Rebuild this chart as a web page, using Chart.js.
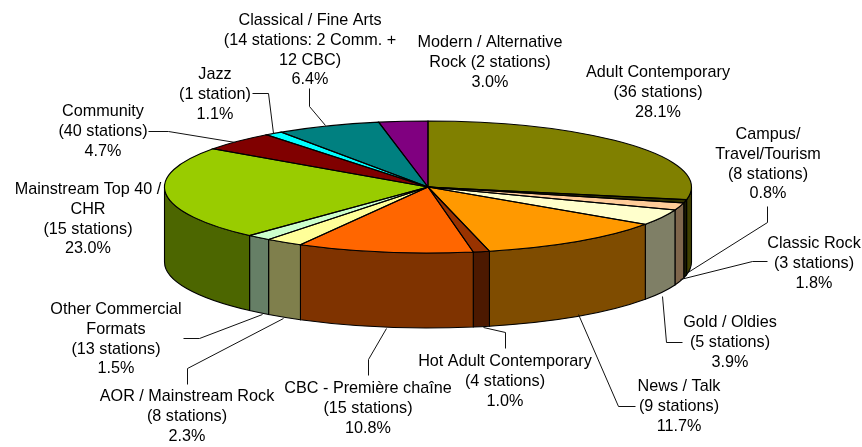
<!DOCTYPE html>
<html>
<head>
<meta charset="utf-8">
<style>
  html,body{margin:0;padding:0;background:#fff;}
  #wrap{width:862px;height:447px;}
</style>
<script src="https://cdn.jsdelivr.net/npm/chart.js@4"></script>
</head>
<body>
<div id="wrap"><canvas id="chart" width="862" height="447"></canvas></div>
<script>
const categories = ['Adult Contemporary','Campus/Travel/Tourism','Classic Rock','Gold / Oldies','News / Talk','Hot Adult Contemporary','CBC - Première chaîne','AOR / Mainstream Rock','Other Commercial Formats','Mainstream Top 40 / CHR','Community','Jazz','Classical / Fine Arts','Modern / Alternative Rock'];
const shares = [28.1,0.8,1.8,3.9,11.7,1.0,10.8,2.3,1.5,23.0,4.7,1.1,6.4,3.0];
const labelLines = [
  ['Adult Contemporary','(36 stations)'],
  ['Campus/','Travel/Tourism','(8 stations)'],
  ['Classic Rock','(3 stations)'],
  ['Gold / Oldies','(5 stations)'],
  ['News / Talk','(9 stations)'],
  ['Hot Adult Contemporary','(4 stations)'],
  ['CBC - Première chaîne','(15 stations)'],
  ['AOR / Mainstream Rock','(8 stations)'],
  ['Other Commercial','Formats','(13 stations)'],
  ['Mainstream Top 40 /','CHR','(15 stations)'],
  ['Community','(40 stations)'],
  ['Jazz','(1 station)'],
  ['Classical / Fine Arts','(14 stations: 2 Comm. +','12 CBC)'],
  ['Modern / Alternative','Rock (2 stations)']
];
const colors = ['#808000','#333300','#FFCC99','#FFFFCC','#FF9900','#993300','#FF6600','#FFFF99','#CCFFCC','#99CC00','#800000','#00FFFF','#008080','#800080'];

// pie projection, in px
const view = { cx:428, cy:187, rx:263.5, ry:66, depth:75 };
// label centre x and first line y, same order as categories
const labelAt = [[658,73],[768,135],[814,244],[730,323],[679,387],[505,362],[368,389],[187,397],[116,310],[88,190],[103,112],[215,75],[310,21],[490,43]];
const lineStep = 19.6;
// leader lines, null where the label has none
const leaders = [
  null,
  [[767,206],[767,222],[686,273]],
  [[767,261],[752,261],[680,279]],
  [[662,296],[666,342],[682,342]],
  [[578,314],[618,406],[635,406]],
  [[483,327],[505,332],[505,348]],
  [[386,328],[368,359],[368,375]],
  [[283,318],[187,368],[187,384]],
  [[262,314],[199,338],[183,338]],
  null,
  [[148,131],[168,131],[235,142]],
  [[252,93],[268,93],[273,133]],
  [[309,88],[309,106],[325,125]],
  null
];

const half = (hex)=>{
  const n = parseInt(hex.slice(1),16);
  return `rgb(${(n>>16)>>1},${((n>>8)&255)>>1},${(n&255)>>1})`;
};

const pie3d = {
  id:'pie3d',
  beforeDatasetsDraw(chart){
    const {ctx} = chart, v = view;
    const arcs = chart.getDatasetMeta(0).data;
    // side wall, only the front half of the rim shows
    ctx.save();
    ctx.lineWidth = 1.1;
    ctx.strokeStyle = '#000';
    arcs.forEach((a,i)=>{
      const s = Math.max(a.startAngle,0), e = Math.min(a.endAngle,Math.PI);
      if(e<=s) return;
      ctx.beginPath();
      ctx.ellipse(v.cx,v.cy,v.rx,v.ry,0,s,e);
      ctx.ellipse(v.cx,v.cy+v.depth,v.rx,v.ry,0,e,s,true);
      ctx.closePath();
      ctx.fillStyle = half(colors[i]);
      ctx.fill();
      ctx.stroke();
    });
    ctx.restore();
    // squash the round pie into the top ellipse
    const a0 = arcs[0];
    ctx.save();
    ctx.translate(v.cx,v.cy);
    ctx.scale(v.rx/a0.outerRadius,v.ry/a0.outerRadius);
    ctx.translate(-a0.x,-a0.y);
  },
  afterDatasetsDraw(chart){
    const {ctx} = chart, v = view;
    ctx.restore();
    ctx.save();
    ctx.lineWidth = 1.1;
    ctx.strokeStyle = '#000';
    chart.getDatasetMeta(0).data.forEach((a)=>{
      ctx.beginPath();
      ctx.moveTo(v.cx,v.cy);
      ctx.ellipse(v.cx,v.cy,v.rx,v.ry,0,a.startAngle,a.endAngle);
      ctx.closePath();
      ctx.stroke();
    });
    // leaders
    ctx.lineWidth = 1;
    ctx.strokeStyle = '#111';
    leaders.forEach((pts)=>{
      if(!pts) return;
      ctx.beginPath();
      pts.forEach(([x,y],k)=> k ? ctx.lineTo(x+.5,y+.5) : ctx.moveTo(x+.5,y+.5));
      ctx.stroke();
    });
    // labels
    ctx.fillStyle = '#000';
    ctx.font = '16.2px "Liberation Sans", Arial, sans-serif';
    ctx.textAlign = 'center';
    ctx.textBaseline = 'middle';
    labelLines.forEach((lines,i)=>{
      const all = lines.concat(shares[i].toFixed(1)+'%');
      all.forEach((t,k)=> ctx.fillText(t,labelAt[i][0],labelAt[i][1]+k*lineStep));
    });
    ctx.restore();
  }
};

new Chart(document.getElementById('chart'),{
  type:'pie',
  data:{ labels:categories, datasets:[{ data:shares, backgroundColor:colors, borderWidth:0 }] },
  options:{
    responsive:false,
    animation:false,
    plugins:{ legend:{display:false}, tooltip:{enabled:false} }
  },
  plugins:[pie3d]
});
</script>
</body>
</html>
